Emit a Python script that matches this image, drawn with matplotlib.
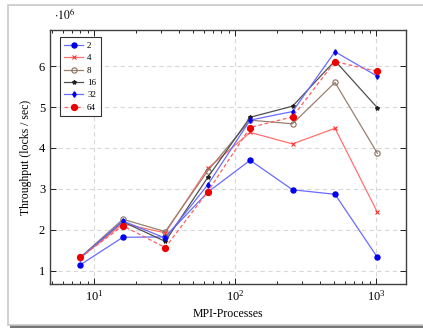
import matplotlib
matplotlib.use('Agg')
import matplotlib.pyplot as plt
from matplotlib.patches import Rectangle

procs = [8, 16, 32, 64, 128, 256, 512, 1024]

# throughput in units of 10^6 locks/sec
t2 = [1.15, 1.82, 1.83, 2.92, 3.70, 2.98, 2.87, 1.33]
t4 = [1.32, 2.15, 1.93, 3.50, 4.38, 4.10, 4.48, 2.43]
t8 = [1.33, 2.26, 1.96, 3.44, 4.68, 4.59, 5.60, 3.87]
t16 = [1.33, 2.20, 1.72, 3.28, 4.75, 5.02, 6.13, 4.98]
t32 = [1.32, 2.22, 1.80, 3.10, 4.68, 4.89, 6.35, 5.75]
t64 = [1.33, 2.10, 1.57, 2.93, 4.50, 4.76, 6.11, 5.87]

labels = ['2', '4', '8', '16', '32', '64']

plt.rcParams['font.family'] = 'Liberation Serif'
plt.rcParams['mathtext.fontset'] = 'stix'

fig = plt.figure(figsize=(4.23, 3.29), dpi=100)

# screenshot-like frame around the figure
fig.patches.append(Rectangle((8/423, 4/329), 420/423, 320/329, transform=fig.transFigure,
                             facecolor='white', edgecolor='#c8c8c8', lw=1.2, zorder=-2))
fig.patches.append(Rectangle((10/423, 1/329), 420/423, 3/329, transform=fig.transFigure,
                             facecolor='#777777', edgecolor='none', zorder=-3))

ax = fig.add_axes([50/423, 45/329, 356/423, 254/329])

styles = [
    dict(color='#6b6bff', marker='o', ms=3.6, mfc='#0000ee', mec='#0000ee', ls='-'),
    dict(color='#ff7070', marker='x', ms=2.6, mfc='#ff3030', mec='#ff3030', ls='-', mew=0.8),
    dict(color='#9a8070', marker='o', ms=3.8, mfc='none', mec='#8a7060', ls='-', mew=0.8),
    dict(color='#505050', marker='*', ms=3.0, mfc='#202020', mec='#202020', ls='-'),
    dict(color='#6b6bff', marker='d', ms=2.8, mfc='#0000ee', mec='#0000ee', ls='-'),
    dict(color='#ff6060', marker='o', ms=4.2, mfc='#ee0000', mec='#ee0000', ls=(0, (3, 2))),
]

for ys, lab, st in zip([t2, t4, t8, t16, t32, t64], labels, styles):
    ax.plot(procs, ys, lw=0.9, label=lab, **st)

ax.set_xscale('log')
ax.set_xlim(4.87, 1633)
ax.set_ylim(0.68, 6.88)
ax.set_yticks([1, 2, 3, 4, 5, 6])

ax.grid(True, which='major', ls=(0, (4, 3)), color='#d8d8d8', lw=0.8)
ax.set_axisbelow(True)
ax.tick_params(which='both', direction='in', top=True, right=True, labelsize=9, width=0.6)
ax.tick_params(which='major', length=4)
ax.tick_params(which='minor', length=2.5)
for sp in ax.spines.values():
    sp.set_color('#404040')
    sp.set_linewidth(1.0)

ax.set_xlabel('MPI-Processes', fontsize=8.5, labelpad=3)
ax.set_ylabel('Throughput (locks / sec)', fontsize=8.5, labelpad=5)
ax.text(0.01, 1.03, r'$\cdot 10^6$', transform=ax.transAxes, fontsize=8.5, ha='left', va='bottom')

leg = ax.legend(loc='upper left', fontsize=6.5, frameon=True, fancybox=False,
                edgecolor='black', handlelength=2.0, handletextpad=0.5, borderpad=0.5,
                labelspacing=0.45, bbox_to_anchor=(0.028, 0.972), borderaxespad=0)
leg.get_frame().set_linewidth(0.8)

fig.savefig('out.png', dpi=100)
